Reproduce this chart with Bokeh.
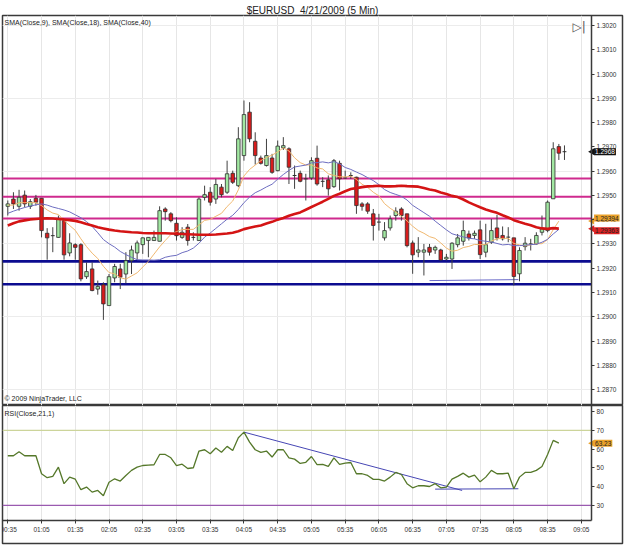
from math import pi
from bokeh.plotting import figure
from bokeh.layouts import column
from bokeh.models import (Range1d, FixedTicker, LinearAxis, Label, Grid,
                          ColumnDataSource, PrintfTickFormatter)
from bokeh.embed import file_html
from bokeh.resources import INLINE

# ---------------- data ----------------
time_labels = ["00:35", "01:05", "01:35", "02:05", "02:35", "03:05", "03:35", "04:05", "04:35",
               "05:05", "05:35", "06:05", "06:35", "07:05", "07:35", "08:05", "08:35", "09:05"]

open_ = [1.29455, 1.29485, 1.29455, 1.29501, 1.29455, 1.29488, 1.29488, 1.29344, 1.29334, 1.29327,
         1.29396, 1.29263, 1.29297, 1.29297, 1.29165, 1.29197, 1.29114, 1.29132, 1.29046, 1.29160,
         1.29197, 1.29176, 1.29231, 1.29263, 1.29297, 1.29314, 1.29314, 1.29311, 1.29444, 1.29424,
         1.29385, 1.29327, 1.29369, 1.29327, 1.29314, 1.29492, 1.29513, 1.29485, 1.29534, 1.29513,
         1.29591, 1.29540, 1.29664, 1.29843, 1.29723, 1.29654, 1.29623, 1.29654, 1.29602, 1.29696,
         1.29692, 1.29582, 1.29591, 1.29568, 1.29572, 1.29653, 1.29558, 1.29564, 1.29536, 1.29632,
         1.29572, 1.29582, 1.29575, 1.29465, 1.29465, 1.29424, 1.29390, 1.29325, 1.29366, 1.29417,
         1.29444, 1.29424, 1.29304, 1.29266, 1.29266, 1.29286, 1.29275, 1.29275, 1.29238, 1.29238,
         1.29297, 1.29311, 1.29341, 1.29335, 1.29358, 1.29266, 1.29307, 1.29366, 1.29335, 1.29328,
         1.29325, 1.29177, 1.29289, 1.29300, 1.29300, 1.29348, 1.29355, 1.29486, 1.29701, 1.29680]
high = [1.29479, 1.29513, 1.29523, 1.29520, 1.29485, 1.29502, 1.29488, 1.29365, 1.29369, 1.29417,
        1.29403, 1.29344, 1.29303, 1.29303, 1.29224, 1.29224, 1.29149, 1.29142, 1.29176, 1.29218,
        1.29218, 1.29266, 1.29293, 1.29314, 1.29327, 1.29327, 1.29355, 1.29455, 1.29451, 1.29431,
        1.29410, 1.29369, 1.29382, 1.29348, 1.29492, 1.29540, 1.29534, 1.29568, 1.29547, 1.29643,
        1.29602, 1.29781, 1.29891, 1.29884, 1.29760, 1.29664, 1.29733, 1.29671, 1.29726, 1.29740,
        1.29698, 1.29623, 1.29602, 1.29589, 1.29657, 1.29705, 1.29575, 1.29582, 1.29650, 1.29643,
        1.29602, 1.29595, 1.29577, 1.29472, 1.29472, 1.29444, 1.29424, 1.29390, 1.29417, 1.29451,
        1.29451, 1.29424, 1.29314, 1.29328, 1.29300, 1.29300, 1.29293, 1.29280, 1.29259, 1.29307,
        1.29341, 1.29396, 1.29355, 1.29355, 1.29396, 1.29383, 1.29403, 1.29420, 1.29372, 1.29369,
        1.29325, 1.29286, 1.29328, 1.29321, 1.29348, 1.29417, 1.29479, 1.29719, 1.29712, 1.29706]
low = [1.29417, 1.29444, 1.29437, 1.29451, 1.29444, 1.29458, 1.29327, 1.29235, 1.29266, 1.29325,
       1.29235, 1.29249, 1.29235, 1.29146, 1.29156, 1.29105, 1.29091, 1.28987, 1.29046, 1.29142,
       1.29114, 1.29138, 1.29176, 1.29234, 1.29259, 1.29245, 1.29314, 1.29311, 1.29396, 1.29389,
       1.29314, 1.29321, 1.29293, 1.29314, 1.29314, 1.29479, 1.29458, 1.29465, 1.29492, 1.29506,
       1.29547, 1.29534, 1.29643, 1.29719, 1.29627, 1.29627, 1.29619, 1.29589, 1.29599, 1.29687,
       1.29547, 1.29527, 1.29554, 1.29479, 1.29564, 1.29540, 1.29534, 1.29499, 1.29531, 1.29520,
       1.29568, 1.29568, 1.29424, 1.29437, 1.29424, 1.29314, 1.29355, 1.29314, 1.29355, 1.29396,
       1.29396, 1.29286, 1.29177, 1.29245, 1.29170, 1.29252, 1.29259, 1.29232, 1.29232, 1.29197,
       1.29286, 1.29293, 1.29314, 1.29321, 1.29238, 1.29245, 1.29300, 1.29314, 1.29314, 1.29307,
       1.29129, 1.29146, 1.29273, 1.29273, 1.29297, 1.29335, 1.29348, 1.29486, 1.29646, 1.29646]
close = [1.29465, 1.29465, 1.29492, 1.29465, 1.29474, 1.29472, 1.29355, 1.29325, 1.29334, 1.29403,
         1.29255, 1.29304, 1.29286, 1.29156, 1.29186, 1.29108, 1.29125, 1.29053, 1.29165, 1.29207,
         1.29163, 1.29231, 1.29275, 1.29304, 1.29325, 1.29327, 1.29327, 1.29437, 1.29433, 1.29396,
         1.29334, 1.29348, 1.29314, 1.29327, 1.29485, 1.29503, 1.29472, 1.29545, 1.29503, 1.29589,
         1.29554, 1.29733, 1.29833, 1.29733, 1.29664, 1.29632, 1.29664, 1.29595, 1.29703, 1.29705,
         1.29616, 1.29582, 1.29558, 1.29568, 1.29643, 1.29547, 1.29558, 1.29527, 1.29643, 1.29568,
         1.29572, 1.29582, 1.29458, 1.29455, 1.29435, 1.29376, 1.29390, 1.29355, 1.29403, 1.29435,
         1.29417, 1.29293, 1.29255, 1.29275, 1.29275, 1.29266, 1.29286, 1.29234, 1.29245, 1.29303,
         1.29325, 1.29355, 1.29325, 1.29344, 1.29256, 1.29297, 1.29355, 1.29325, 1.29321, 1.29328,
         1.29166, 1.29273, 1.29303, 1.29300, 1.29335, 1.29362, 1.29472, 1.29692, 1.29674, 1.29680]

# indicator lines (values at bars 0..98, the last closed bar)
sma9 = [1.29460, 1.29460, 1.29470, 1.29470, 1.29470, 1.29470, 1.29458, 1.29440, 1.29427, 1.29421,
        1.29397, 1.29376, 1.29356, 1.29321, 1.29289, 1.29262, 1.29240, 1.29208, 1.29182, 1.29177,
        1.29161, 1.29155, 1.29168, 1.29181, 1.29205, 1.29228, 1.29258, 1.29288, 1.29314, 1.29339,
        1.29351, 1.29359, 1.29360, 1.29360, 1.29378, 1.29397, 1.29401, 1.29414, 1.29426, 1.29454,
        1.29477, 1.29523, 1.29580, 1.29607, 1.29625, 1.29643, 1.29656, 1.29666, 1.29679, 1.29696,
        1.29683, 1.29655, 1.29635, 1.29625, 1.29626, 1.29613, 1.29609, 1.29589, 1.29582, 1.29577,
        1.29576, 1.29579, 1.29566, 1.29546, 1.29533, 1.29513, 1.29498, 1.29466, 1.29447, 1.29432,
        1.29414, 1.29395, 1.29373, 1.29355, 1.29344, 1.29330, 1.29323, 1.29304, 1.29283, 1.29270,
        1.29274, 1.29285, 1.29290, 1.29298, 1.29297, 1.29298, 1.29312, 1.29321, 1.29323, 1.29323,
        1.29302, 1.29296, 1.29292, 1.29296, 1.29301, 1.29301, 1.29318, 1.29359, 1.29394]
sma18 = [1.29426, 1.29435, 1.29443, 1.29450, 1.29456, 1.29461, 1.29465, 1.29460, 1.29452, 1.29446,
         1.29440, 1.29432, 1.29420, 1.29408, 1.29392, 1.29372, 1.29346, 1.29318, 1.29301, 1.29287,
         1.29269, 1.29256, 1.29245, 1.29235, 1.29234, 1.29234, 1.29233, 1.29235, 1.29245, 1.29250,
         1.29253, 1.29264, 1.29271, 1.29283, 1.29303, 1.29328, 1.29345, 1.29364, 1.29383, 1.29402,
         1.29418, 1.29442, 1.29470, 1.29493, 1.29511, 1.29522, 1.29535, 1.29546, 1.29567, 1.29586,
         1.29603, 1.29617, 1.29621, 1.29625, 1.29634, 1.29635, 1.29638, 1.29634, 1.29639, 1.29630,
         1.29615, 1.29607, 1.29596, 1.29586, 1.29573, 1.29561, 1.29544, 1.29524, 1.29512, 1.29504,
         1.29496, 1.29481, 1.29459, 1.29444, 1.29429, 1.29414, 1.29394, 1.29376, 1.29358, 1.29342,
         1.29335, 1.29329, 1.29323, 1.29321, 1.29314, 1.29311, 1.29308, 1.29302, 1.29296, 1.29298,
         1.29293, 1.29293, 1.29295, 1.29297, 1.29299, 1.29307, 1.29319, 1.29341, 1.29360]
sma40 = [1.29376, 1.29385, 1.29393, 1.29397, 1.29401, 1.29403, 1.29405, 1.29406, 1.29405, 1.29403,
         1.29401, 1.29398, 1.29395, 1.29389, 1.29382, 1.29376, 1.29369, 1.29364, 1.29359, 1.29355,
         1.29352, 1.29350, 1.29348, 1.29347, 1.29345, 1.29344, 1.29344, 1.29344, 1.29344, 1.29343,
         1.29342, 1.29341, 1.29340, 1.29339, 1.29338, 1.29338, 1.29338, 1.29339, 1.29341, 1.29343,
         1.29346, 1.29352, 1.29361, 1.29367, 1.29372, 1.29376, 1.29384, 1.29391, 1.29400, 1.29407,
         1.29416, 1.29423, 1.29430, 1.29441, 1.29452, 1.29463, 1.29474, 1.29486, 1.29498, 1.29507,
         1.29517, 1.29526, 1.29530, 1.29534, 1.29537, 1.29538, 1.29540, 1.29537, 1.29537, 1.29538,
         1.29540, 1.29538, 1.29537, 1.29536, 1.29530, 1.29524, 1.29520, 1.29512, 1.29506, 1.29498,
         1.29493, 1.29483, 1.29471, 1.29461, 1.29451, 1.29442, 1.29435, 1.29428, 1.29418, 1.29409,
         1.29398, 1.29390, 1.29383, 1.29377, 1.29369, 1.29364, 1.29362, 1.29365, 1.29363]
rsi = [56.5, 56.5, 58.6, 56.5, 56.5, 56.5, 46.9, 44.8, 45.5, 50.4,
       41.6, 45.1, 44.0, 38.4, 39.8, 37.1, 38.0, 35.2, 42.4, 44.2,
       43.0, 46.0, 48.7, 50.4, 51.3, 51.5, 51.7, 57.2, 57.2, 55.4,
       51.2, 52.0, 49.7, 50.1, 59.0, 59.7, 57.6, 60.6, 58.4, 61.5,
       59.3, 66.1, 69.1, 63.8, 59.7, 58.3, 59.0, 55.8, 59.7, 59.7,
       55.4, 54.7, 52.4, 53.0, 56.1, 51.8, 51.9, 50.8, 55.4, 51.9,
       52.6, 52.9, 46.9, 46.9, 46.0, 43.9, 43.9, 43.0, 45.1, 47.6,
       46.5, 41.6, 39.4, 40.5, 40.5, 40.1, 41.6, 39.4, 39.8, 44.0,
       45.5, 47.2, 45.1, 46.2, 42.6, 45.1, 48.7, 46.9, 46.9, 47.2,
       38.9, 45.1, 47.6, 47.6, 48.7, 50.8, 57.2, 64.7, 63.23]

# drawn objects
resistance_levels = [1.29570, 1.29494, 1.29405]
support_levels = [1.29228, 1.29134]
price_trend_x = [75.0, 90.8]
price_trend_y = [1.29149, 1.29153]
rsi_trend1_x = [42.0, 80.8]
rsi_trend1_y = [69.1, 38.0]
rsi_trend2_x = [76.0, 90.8]
rsi_trend2_y = [38.7, 38.9]
rsi_levels = [70, 30]
price_ticks = [1.2870, 1.2880, 1.2890, 1.2900, 1.2910, 1.2920, 1.2930, 1.2940, 1.2950,
               1.2960, 1.2970, 1.2980, 1.2990, 1.3000, 1.3010, 1.3020]
price_grid = [1.2870, 1.2900, 1.2930, 1.2960, 1.2990, 1.3020]
rsi_ticks = [30, 40, 50, 60, 70, 80]

# ---------------- layout constants ----------------
FONT = "Liberation Sans"
X0, X1 = -0.943, 109.32        # visible bar range
AXX = 103.81                    # where the value axis sits
BARS_PER_TICK = 6
tick_pos = [i * BARS_PER_TICK for i in range(len(time_labels))]
PY0, PY1 = 1.286343, 1.302412
RY0, RY1 = 9.7, 83.3
RSI_AX = 21.97
FRAME = "#3a3a3a"

n = len(close)
idx = list(range(n))
up = [c > o for o, c in zip(open_, close)]
down = [c < o for o, c in zip(open_, close)]
doji = [c == o for o, c in zip(open_, close)]

src = ColumnDataSource(dict(x=idx, o=open_, h=high, l=low, c=close))

def sub(mask):
    return ColumnDataSource(dict(
        x=[i for i, m in zip(idx, mask) if m],
        top=[max(o, c) for o, c, m in zip(open_, close, mask) if m],
        bot=[min(o, c) for o, c, m in zip(open_, close, mask) if m],
        c=[c for c, m in zip(close, mask) if m]))

# ---------------- price panel ----------------
p = figure(width=625, height=405, x_range=Range1d(X0, X1), y_range=Range1d(PY0, PY1),
           x_axis_type=None, y_axis_type=None, output_backend="svg", toolbar_location=None,
           min_border_left=2, min_border_right=3, min_border_top=15, min_border_bottom=0,
           title="$EURUSD\u00a0 4/21/2009 (5 Min)")
p.title.align = "center"
p.title.text_font = FONT
p.title.text_font_size = "10px"
p.title.text_font_style = "normal"
p.title.text_color = "#222222"
p.title.standoff = 0
p.title.offset = 2
p.outline_line_color = FRAME
p.outline_line_width = 1.5
p.background_fill_color = "white"
p.border_fill_color = "white"

p.add_layout(Grid(dimension=0, ticker=FixedTicker(ticks=tick_pos), grid_line_color="#e6e6e6",
                  grid_line_width=1))
p.add_layout(Grid(dimension=1, ticker=FixedTicker(ticks=price_grid), grid_line_color="#ececec",
                  grid_line_width=1, cross_bounds=(X0, AXX)))

ya = LinearAxis(fixed_location=AXX, ticker=FixedTicker(ticks=price_ticks),
                formatter=PrintfTickFormatter(format="%.4f"))
ya.axis_line_color = FRAME
ya.axis_line_width = 1.5
ya.major_tick_line_color = FRAME
ya.major_tick_out = 3
ya.major_tick_in = 0
ya.minor_tick_line_color = None
ya.major_label_text_font = FONT
ya.major_label_text_font_size = "6.5px"
ya.major_label_text_color = "#333333"
ya.major_label_standoff = 2
p.add_layout(ya, "right")

# levels
for lv in resistance_levels:
    p.segment(x0=X0, x1=AXX, y0=lv, y1=lv, line_color="#cf2a8e", line_width=2)
for lv in support_levels:
    p.segment(x0=X0, x1=AXX, y0=lv, y1=lv, line_color="#0c0c90", line_width=2.6)
p.line(price_trend_x, price_trend_y, line_color="#6a6ac8", line_width=1)

# candles
p.segment(x0="x", x1="x", y0="h", y1="l", source=src, line_color="#404040", line_width=1)
p.vbar(x="x", width=0.62, top="top", bottom="bot", source=sub(up),
       fill_color="#a2e8a2", line_color="#2e2e2e", line_width=0.8)
p.vbar(x="x", width=0.62, top="top", bottom="bot", source=sub(down),
       fill_color="#d81c1c", line_color="#2e2e2e", line_width=0.8)
dj = sub(doji)
p.segment(x0=[x - 0.34 for x in dj.data["x"]], x1=[x + 0.34 for x in dj.data["x"]],
          y0=dj.data["c"], y1=dj.data["c"], line_color="#2e2e2e", line_width=1)

# moving averages
sidx = list(range(len(sma9)))
p.line(sidx, sma9, line_color="#f0b870", line_width=1)
p.line(sidx, sma18, line_color="#6d6dc0", line_width=1)
p.line(sidx, sma40, line_color="#d41414", line_width=2.6)

# value markers on the axis
def marker(fig, y, text, bg, fg, yoff=0):
    fig.scatter(x=[AXX + 0.12], y=[y], marker="triangle", size=7, angle=pi / 2,
                fill_color=bg, line_color=None)
    fig.add_layout(Label(x=AXX + 0.45, y=y, text=text, text_align="left",
                         text_baseline="middle", text_font=FONT, text_font_size="6.5px",
                         text_color=fg, background_fill_color=bg, y_offset=yoff,
                         padding=1))

marker(p, close[-1], "%.4f" % close[-1], "#111111", "white")
marker(p, sma9[-1], "%.5f" % sma9[-1], "#eba22a", "#222222", yoff=3)
marker(p, sma40[-1], "%.5f" % sma40[-1], "#de2222", "#222222", yoff=-2)

p.add_layout(Label(x=2, y=383, x_units="screen", y_units="screen",
                   text="SMA(Close,9), SMA(Close,18), SMA(Close,40)", text_align="left",
                   text_baseline="middle", text_font=FONT, text_font_size="7px",
                   text_color="#222222"))
p.add_layout(Label(x=2, y=7, x_units="screen", y_units="screen",
                   text="\u00a9 2009 NinjaTrader, LLC", text_align="left",
                   text_baseline="middle", text_font=FONT, text_font_size="7px",
                   text_color="#222222"))
p.add_layout(Label(x=570, y=379, x_units="screen", y_units="screen",
                   text="\u25b7|", text_align="left", text_baseline="middle",
                   text_font="DejaVu Sans", text_font_size="12px", text_color="#555555"))

# ---------------- RSI panel ----------------
q = figure(width=625, height=140, x_range=p.x_range, y_range=Range1d(RY0, RY1),
           x_axis_type=None, y_axis_type=None, output_backend="svg", toolbar_location=None,
           min_border_left=2, min_border_right=3, min_border_top=0, min_border_bottom=2)
q.outline_line_color = FRAME
q.outline_line_width = 1.5
q.background_fill_color = "white"
q.border_fill_color = "white"

q.add_layout(Grid(dimension=0, ticker=FixedTicker(ticks=tick_pos), grid_line_color="#e6e6e6",
                  grid_line_width=1, cross_bounds=(RSI_AX, RY1)))

xa = LinearAxis(fixed_location=RSI_AX, ticker=FixedTicker(ticks=tick_pos),
                major_label_overrides={t: lab for t, lab in zip(tick_pos, time_labels)},
                bounds=(X0, AXX))
xa.axis_line_color = FRAME
xa.axis_line_width = 1.5
xa.major_tick_line_color = FRAME
xa.major_tick_out = 3
xa.major_tick_in = 1
xa.minor_tick_line_color = None
xa.major_label_text_font = FONT
xa.major_label_text_font_size = "6.5px"
xa.major_label_text_color = "#333333"
xa.major_label_standoff = 3
q.add_layout(xa, "below")

ra = LinearAxis(fixed_location=AXX, ticker=FixedTicker(ticks=rsi_ticks), bounds=(RSI_AX, RY1))
ra.axis_line_color = FRAME
ra.axis_line_width = 1.5
ra.major_tick_line_color = FRAME
ra.major_tick_out = 3
ra.major_tick_in = 0
ra.minor_tick_line_color = None
ra.major_label_text_font = FONT
ra.major_label_text_font_size = "6.5px"
ra.major_label_text_color = "#333333"
ra.major_label_standoff = 2
q.add_layout(ra, "right")

q.segment(x0=X0, x1=AXX, y0=rsi_levels[0], y1=rsi_levels[0], line_color="#ccd49a", line_width=1.3)
q.segment(x0=X0, x1=AXX, y0=rsi_levels[1], y1=rsi_levels[1], line_color="#9a5ab0", line_width=1.3)
q.line(rsi_trend1_x, rsi_trend1_y, line_color="#4646b4", line_width=1)
q.line(rsi_trend2_x, rsi_trend2_y, line_color="#4646b4", line_width=1)
q.line(list(range(len(rsi))), rsi, line_color="#55782a", line_width=1.3)
marker(q, rsi[-1], "%.2f" % rsi[-1], "#eba22a", "#222222")

q.add_layout(Label(x=2, y=130, x_units="screen", y_units="screen",
                   text="RSI(Close,21,1)", text_align="left", text_baseline="middle",
                   text_font=FONT, text_font_size="7px", text_color="#222222"))

layout = column(p, q)
open("out.html", "w").write(file_html(layout, INLINE))
